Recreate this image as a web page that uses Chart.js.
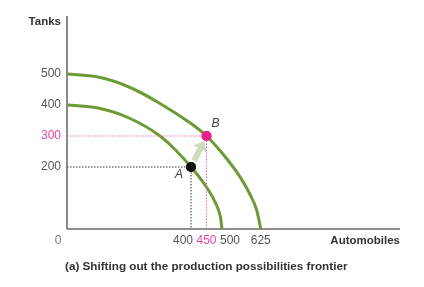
<!DOCTYPE html>
<html>
<head>
<meta charset="utf-8">
<script src="https://cdn.jsdelivr.net/npm/chart.js@4/dist/chart.umd.min.js"></script>
<style>
  html, body { margin: 0; padding: 0; background: #fff; }
  #wrap { width: 424px; height: 287px; }
</style>
</head>
<body>
<div id="wrap"><canvas id="ppf"></canvas></div>
<script>
// Frontière initiale et frontière déplacée
const innerX = [0, 100, 200, 300, 350, 400, 450, 480, 495, 500];
const innerY = [400, 390, 358, 300, 255, 200, 135, 82, 38, 0];
const outerX = [0, 100, 200, 300, 400, 450, 500, 550, 590, 612, 625];
const outerY = [500, 490, 458, 405, 340, 300, 245, 180, 112, 60, 0];

// Points A et B
const pointA = { x: 400, y: 200 };
const pointB = { x: 450, y: 300 };

// Graduations
const yTicks = [200, 300, 400, 500];
const xTicks = [400, 450, 500, 625];
const highlightTicks = [300, 450];

const caption = '(a) Shifting out the production possibilities frontier';

const green = '#6c9a34';
const pink = '#ea1f8c';
const pinkText = '#e8449c';
const grey = '#555';

function toPoints(xs, ys) {
  return xs.map((x, i) => ({ x: x, y: ys[i] }));
}

// Décalage des étiquettes de l'axe x pour éviter le chevauchement
const xLabelNudge = { 400: -8, 450: 0, 500: 8, 625: 0 };

const decorPlugin = {
  id: 'decor',
  beforeDatasetsDraw(chart) {
    const ctx = chart.ctx;
    const a = chart.chartArea;
    ctx.save();
    // axes
    ctx.strokeStyle = '#8a8a8a';
    ctx.lineWidth = 2;
    ctx.beginPath();
    ctx.moveTo(a.left, a.top);
    ctx.lineTo(a.left, a.bottom);
    ctx.stroke();
    ctx.strokeStyle = '#6a6a6a';
    ctx.lineWidth = 1.5;
    ctx.beginPath();
    ctx.moveTo(a.left, a.bottom);
    ctx.lineTo(a.right, a.bottom);
    ctx.stroke();
    ctx.restore();
  },
  afterDraw(chart) {
    const ctx = chart.ctx;
    const a = chart.chartArea;
    const xs = chart.scales.x;
    const ys = chart.scales.y;
    ctx.save();

    // flèche de A vers B
    const ax = xs.getPixelForValue(pointA.x), ay = ys.getPixelForValue(pointA.y);
    const bx = xs.getPixelForValue(pointB.x), by = ys.getPixelForValue(pointB.y);
    const ang = Math.atan2(by - ay, bx - ax);
    const len = Math.hypot(bx - ax, by - ay);
    ctx.translate(ax, ay);
    ctx.rotate(ang);
    ctx.fillStyle = '#cddcbc';
    ctx.beginPath();
    ctx.moveTo(7, -3);
    ctx.lineTo(len - 14, -3);
    ctx.lineTo(len - 15, -7.5);
    ctx.lineTo(len - 5, 0);
    ctx.lineTo(len - 15, 7.5);
    ctx.lineTo(len - 14, 3);
    ctx.lineTo(7, 3);
    ctx.closePath();
    ctx.fill();
    ctx.setTransform(1, 0, 0, 1, 0, 0);

    // repose les points au-dessus de la flèche
    [[ax, ay, '#111'], [bx, by, pink]].forEach(p => {
      ctx.fillStyle = p[2];
      ctx.beginPath();
      ctx.arc(p[0], p[1], 5, 0, Math.PI * 2);
      ctx.fill();
    });

    ctx.font = 'italic 12px "Liberation Sans", Arial, sans-serif';
    ctx.fillStyle = '#444';
    ctx.textAlign = 'center';
    ctx.textBaseline = 'middle';
    ctx.fillText('A', ax - 12, ay + 8);
    ctx.fillText('B', bx + 9, by - 12);

    // étiquettes de l'axe y
    ctx.font = '12px "Liberation Sans", Arial, sans-serif';
    ctx.textAlign = 'right';
    yTicks.forEach(v => {
      ctx.fillStyle = highlightTicks.includes(v) ? pinkText : grey;
      ctx.fillText(String(v), a.left - 6, ys.getPixelForValue(v));
    });
    // étiquettes de l'axe x
    ctx.textAlign = 'center';
    xTicks.forEach(v => {
      ctx.fillStyle = highlightTicks.includes(v) ? pinkText : grey;
      ctx.fillText(String(v), xs.getPixelForValue(v) + xLabelNudge[v], a.bottom + 12);
    });
    ctx.fillStyle = '#777';
    ctx.fillText('0', a.left - 9, a.bottom + 12);

    // titres des axes
    ctx.font = 'bold 11.5px "Liberation Sans", Arial, sans-serif';
    ctx.fillStyle = '#333';
    ctx.textAlign = 'right';
    ctx.fillText('Tanks', a.left - 6, a.top + 6);
    ctx.fillText('Automobiles', a.right, a.bottom + 12);

    // légende
    ctx.textAlign = 'left';
    ctx.font = 'bold 11.7px "Liberation Sans", Arial, sans-serif';
    ctx.fillText(caption, 65, 267);
    ctx.restore();
  }
};

new Chart(document.getElementById('ppf'), {
  type: 'line',
  data: {
    datasets: [
      {
        label: 'guide B',
        data: [{ x: 0, y: pointB.y }, { x: pointB.x, y: pointB.y }, { x: pointB.x, y: 0 }],
        borderColor: '#f06ab4',
        borderWidth: 1,
        borderDash: [1.5, 1.5],
        pointRadius: 0,
        tension: 0
      },
      {
        label: 'guide A',
        data: [{ x: 0, y: pointA.y }, { x: pointA.x, y: pointA.y }, { x: pointA.x, y: 0 }],
        borderColor: '#333',
        borderWidth: 1,
        borderDash: [1.5, 1.5],
        pointRadius: 0,
        tension: 0
      },
      {
        label: 'PPF initiale',
        data: toPoints(innerX, innerY),
        borderColor: green,
        borderWidth: 3,
        pointRadius: 0,
        cubicInterpolationMode: 'monotone'
      },
      {
        label: 'PPF déplacée',
        data: toPoints(outerX, outerY),
        borderColor: green,
        borderWidth: 3,
        pointRadius: 0,
        cubicInterpolationMode: 'monotone'
      },
      {
        label: 'points',
        data: [pointA, pointB],
        showLine: false,
        pointRadius: 5,
        pointBackgroundColor: ['#111', pink],
        pointBorderWidth: 0
      }
    ]
  },
  options: {
    responsive: true,
    maintainAspectRatio: false,
    animation: false,
    layout: { padding: { left: 67, top: 16, right: 24, bottom: 58 } },
    plugins: { legend: { display: false }, tooltip: { enabled: false } },
    scales: {
      x: { type: 'linear', display: false, min: 0, max: 1074 },
      y: { type: 'linear', display: false, min: 0, max: 687 }
    }
  },
  plugins: [decorPlugin]
});
</script>
</body>
</html>
